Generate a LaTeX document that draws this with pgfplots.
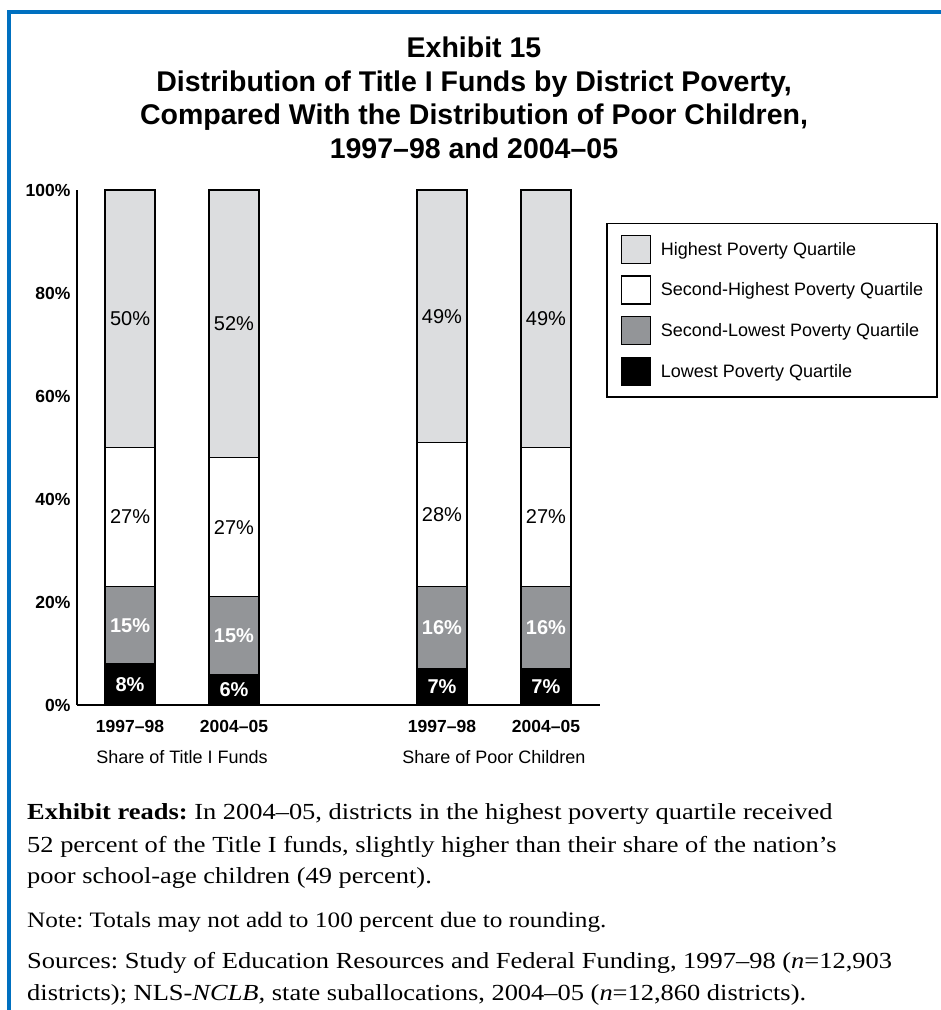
\documentclass[border=0pt]{standalone}
\usepackage{pgfplots}
\pgfplotsset{compat=1.18}
\usepackage{pgfplotstable}
\usepackage{fontspec}
\setmainfont{Liberation Sans}
\newfontfamily\seriffont{Liberation Serif}[FakeStretch=1.15, Ligatures=TeX]
\frenchspacing
\definecolor{borderblue}{HTML}{0070C0}
\definecolor{lightgr}{HTML}{DCDDDF}
\definecolor{midgr}{HTML}{939598}

\pgfplotstableread{
x low lowlab seclow seclowlab sechigh sechighlab high highlab
0 8 8 15 15 27 27 50 50
1 6 6 15 15 27 27 52 52
3 7 7 16 16 28 28 49 49
4 7 7 16 16 27 27 50 49
}\datatable
% label positions: middle of each stacked segment
\pgfplotstablecreatecol[expr={\thisrow{low}/2}]{lowc}{\datatable}
\pgfplotstablecreatecol[expr={\thisrow{low}+\thisrow{seclow}/2}]{seclowc}{\datatable}
\pgfplotstablecreatecol[expr={\thisrow{low}+\thisrow{seclow}+\thisrow{sechigh}/2}]{sechighc}{\datatable}
\pgfplotstablecreatecol[expr={\thisrow{low}+\thisrow{seclow}+\thisrow{sechigh}+\thisrow{high}/2}]{highc}{\datatable}

\pgfplotsset{
  baseaxis/.style={
    at={(77pt,-705pt)}, anchor=south west,
    scale only axis, width=523pt, height=515pt,
    xmin=-0.51, xmax=4.52, ymin=0, ymax=100, enlargelimits=false,
    clip=false,
  },
}

\begin{document}
\begin{tikzpicture}
\path[use as bounding box] (0pt,0pt) rectangle (941pt,-1010pt);
\draw[borderblue, line width=4pt] (9pt,-1010pt) -- (9pt,-12pt) -- (941pt,-12pt);

% title
\begin{scope}[every node/.style={anchor=base, inner sep=0pt, font=\fontsize{28.5}{33}\selectfont\bfseries}]
\node at (474pt,-57pt) {Exhibit 15};
\node at (474pt,-91pt) {Distribution of Title I Funds by District Poverty,};
\node at (474pt,-124pt) {Compared With the Distribution of Poor Children,};
\node at (474pt,-158pt) {1997–98 and 2004–05};
\end{scope}

\begin{axis}[
  baseaxis,
  ybar stacked, bar width=50pt,
  axis x line=bottom, axis y line=left,
  x axis line style={-, line width=2pt},
  y axis line style={-, line width=1.5pt},
  xtick={0,1,3,4}, xticklabels={1997–98,2004–05,1997–98,2004–05},
  ytick={0,20,40,60,80,100},
  yticklabel={\pgfmathprintnumber{\tick}\%},
  /pgf/number format/assume math mode=true,
  major tick length=0pt,
  tick label style={font=\fontsize{17.5}{20}\selectfont\bfseries},
  xticklabel style={anchor=base, yshift=-27pt},
  yticklabel style={xshift=-3pt},
  reverse legend,
  legend cell align=left,
  legend style={at={(axis description cs:1.0115,0.936)}, anchor=north west,
    draw=black, line width=1.5pt, font=\fontsize{18}{21}\selectfont,
    inner xsep=14pt, inner ysep=11pt, row sep=11.5pt, column sep=10pt,
    nodes={inner sep=0pt}},
  legend image code/.code={\draw[#1, line width=1.2pt] (0pt,-14pt) rectangle (29pt,14pt);},
]
\addplot[fill=black, draw=black, line width=1.2pt] table[x=x, y=low] {\datatable};
\addlegendentry{Lowest Poverty Quartile}
\addplot[fill=midgr, draw=black, line width=1.2pt] table[x=x, y=seclow] {\datatable};
\addlegendentry{Second-Lowest Poverty Quartile}
\addplot[fill=white, draw=black, line width=1.2pt] table[x=x, y=sechigh] {\datatable};
\addlegendentry{Second-Highest Poverty Quartile}
\addplot[fill=lightgr, draw=black, line width=1.2pt] table[x=x, y=high] {\datatable};
\addlegendentry{Highest Poverty Quartile}

\node[font=\fontsize{18}{21}\selectfont, anchor=base, inner sep=0pt, yshift=-58pt] at (axis cs:0.5,0) {Share of Title I Funds};
\node[font=\fontsize{18}{21}\selectfont, anchor=base, inner sep=0pt, yshift=-58pt] at (axis cs:3.5,0) {Share of Poor Children};
\end{axis}

% segment labels (same geometry, no axis drawn)
\begin{axis}[
  baseaxis, hide axis,
  point meta=explicit symbolic,
  nodes near coords={\pgfplotspointmeta\%},
  every node near coord/.append style={anchor=center, inner sep=0pt},
]
\addplot[draw=none, mark=none, nodes near coords style={text=white, font=\fontsize{20}{24}\selectfont\bfseries}]
  table[x=x, y=lowc, meta=lowlab] {\datatable};
\addplot[draw=none, mark=none, nodes near coords style={text=white, font=\fontsize{20}{24}\selectfont\bfseries}]
  table[x=x, y=seclowc, meta=seclowlab] {\datatable};
\addplot[draw=none, mark=none, nodes near coords style={text=black, font=\fontsize{20}{24}\selectfont}]
  table[x=x, y=sechighc, meta=sechighlab] {\datatable};
\addplot[draw=none, mark=none, nodes near coords style={text=black, font=\fontsize{20}{24}\selectfont}]
  table[x=x, y=highc, meta=highlab] {\datatable};
\end{axis}

% notes
\begin{scope}[every node/.style={anchor=base west, inner sep=0pt, font=\seriffont\fontsize{23}{28}\selectfont}]
\node at (27pt,-819pt) {\textbf{Exhibit reads:} In 2004–05, districts in the highest poverty quartile received};
\node at (27pt,-852pt) {52 percent of the Title I funds, slightly higher than their share of the nation’s};
\node at (27pt,-883pt) {poor school-age children (49 percent).};
\node[font=\seriffont\fontsize{22}{26}\selectfont] at (27pt,-927pt) {Note: Totals may not add to 100 percent due to rounding.};
\node at (27pt,-968pt) {Sources: Study of Education Resources and Federal Funding, 1997–98 (\textit{n}=12,903};
\node at (27pt,-1000pt) {districts); NLS-\textit{NCLB,} state suballocations, 2004–05 (\textit{n}=12,860 districts).};
\end{scope}
\end{tikzpicture}
\end{document}
